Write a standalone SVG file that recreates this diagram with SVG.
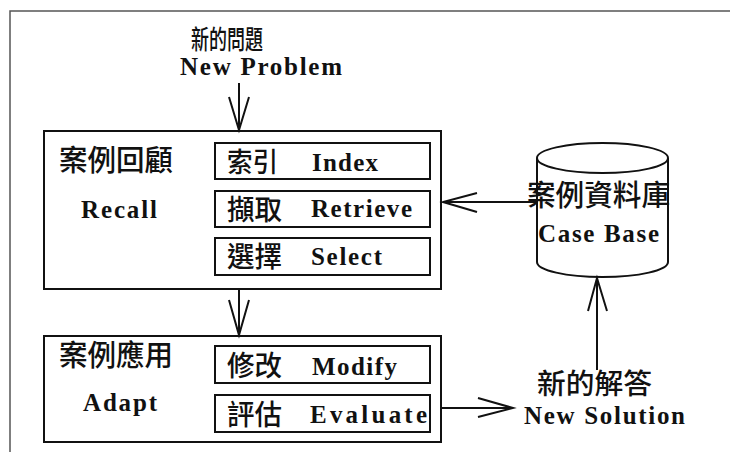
<svg xmlns="http://www.w3.org/2000/svg" width="730" height="452" viewBox="0 0 730 452">
<style>
.box{fill:#fff;stroke:#111;stroke-width:2}
.sub{fill:#fff;stroke:#111;stroke-width:2}
.zh{font-family:"Noto Sans CJK TC","Noto Sans CJK SC",sans-serif;font-weight:500;fill:#111}
.en{font-family:"Liberation Serif","Times New Roman",serif;font-weight:bold;fill:#111;font-size:25px}
.ln{fill:none;stroke:#111;stroke-width:2}
</style>
<rect width="730" height="452" fill="#fff"/>
<g id="frame"><path d="M10,452 V11 H730" fill="none" stroke="#555" stroke-width="1.5"/></g>

<g id="new-problem">
<text class="zh" x="227" y="49" font-size="26" text-anchor="middle" textLength="72" lengthAdjust="spacingAndGlyphs">新的問題</text>
<text class="en" x="261" y="75" font-size="25" text-anchor="middle" textLength="162" lengthAdjust="spacing">New Problem</text>
</g>

<g id="recall">
<rect class="box" x="44" y="131" width="397" height="158"/>
<text class="zh" x="59" y="171" font-size="29" textLength="114" lengthAdjust="spacingAndGlyphs">案例回顧</text>
<text class="en" x="81" y="218" textLength="76" lengthAdjust="spacing">Recall</text>
</g>
<g id="index">
<rect class="sub" x="215" y="143" width="215" height="36"/>
<text class="zh" x="227" y="172" font-size="27" textLength="51" lengthAdjust="spacingAndGlyphs">索引</text>
<text class="en" x="312" y="171" textLength="66" lengthAdjust="spacing">Index</text>
</g>
<g id="retrieve">
<rect class="sub" x="215" y="191" width="215" height="36"/>
<text class="zh" x="227" y="220" font-size="28" textLength="55" lengthAdjust="spacingAndGlyphs">擷取</text>
<text class="en" x="311" y="217" textLength="101" lengthAdjust="spacing">Retrieve</text>
</g>
<g id="select">
<rect class="sub" x="215" y="238" width="215" height="37"/>
<text class="zh" x="227" y="267" font-size="28" textLength="55" lengthAdjust="spacingAndGlyphs">選擇</text>
<text class="en" x="311" y="265" textLength="71" lengthAdjust="spacing">Select</text>
</g>

<g id="adapt">
<rect class="box" x="44" y="336" width="397" height="106"/>
<text class="zh" x="59" y="366" font-size="29" textLength="114" lengthAdjust="spacingAndGlyphs">案例應用</text>
<text class="en" x="83" y="411" textLength="74" lengthAdjust="spacing">Adapt</text>
</g>
<g id="modify">
<rect class="sub" x="215" y="346" width="215" height="37"/>
<text class="zh" x="227" y="376" font-size="28" textLength="55" lengthAdjust="spacingAndGlyphs">修改</text>
<text class="en" x="312" y="375" textLength="85" lengthAdjust="spacing">Modify</text>
</g>
<g id="evaluate">
<rect class="sub" x="215" y="395" width="215" height="37"/>
<text class="zh" x="227" y="425" font-size="28" textLength="55" lengthAdjust="spacingAndGlyphs">評估</text>
<text class="en" x="310" y="423" textLength="117" lengthAdjust="spacing">Evaluate</text>
</g>

<g id="case-base">
<path class="ln" d="M537,158 V262 A65.5,15 0 0 0 668,262 V158"/>
<ellipse class="ln" cx="602.5" cy="158" rx="65.5" ry="15"/>
<text class="zh" x="527" y="206" font-size="29" textLength="143" lengthAdjust="spacingAndGlyphs">案例資料庫</text>
<text class="en" x="538" y="242" textLength="121" lengthAdjust="spacing">Case Base</text>
</g>

<g id="new-solution">
<text class="zh" x="537" y="394" font-size="28" textLength="115" lengthAdjust="spacingAndGlyphs">新的解答</text>
<text class="en" x="524" y="424" textLength="161" lengthAdjust="spacing">New Solution</text>
</g>

<g id="connectors" class="ln">
<path d="M239,83 V130 M229,97 L239,130 L249,97"/>
<path d="M239,289 V335 M229,300 L239,335 L249,300"/>
<path d="M537,202 H443 M477,193 L443,202 L477,212"/>
<path d="M441,408 H513 M478,398 L513,408 L478,417"/>
<path d="M597,370 V278 M588,311 L597,278 L607,311"/>
</g>
</svg>
